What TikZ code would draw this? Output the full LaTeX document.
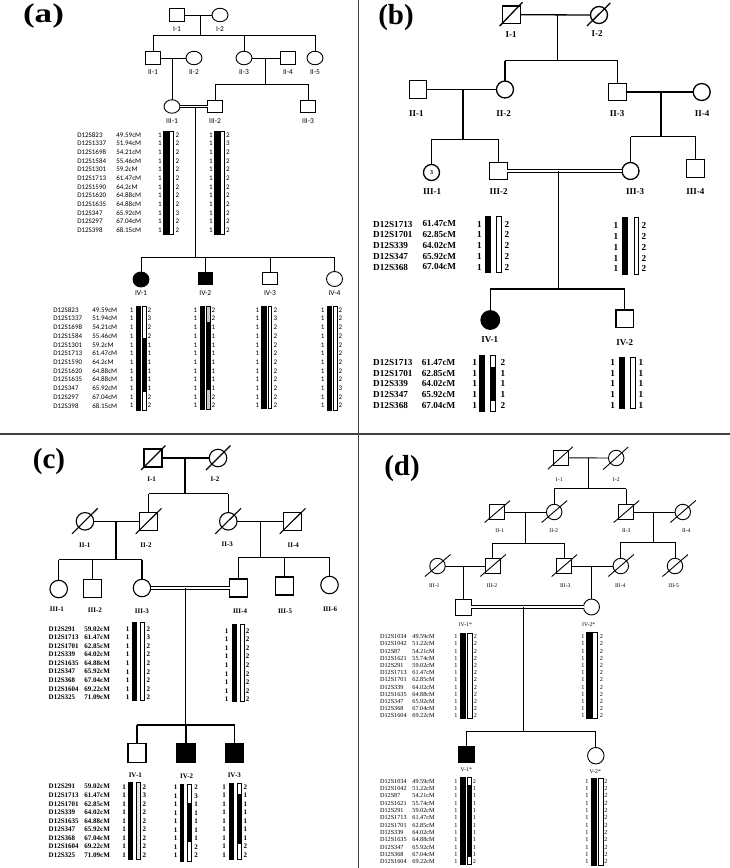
\documentclass[tikz,border=0pt]{standalone}
\usepackage{fontspec}
\setmainfont{Liberation Serif}
\newfontfamily\calib{Carlito}
\usetikzlibrary{shapes.geometric}
\def\amarks{D12S823/49.59cM, D12S1337/51.94cM, D12S1698/54.21cM, D12S1584/55.46cM, D12S1301/59.2cM, D12S1713/61.47cM, D12S1590/64.2cM, D12S1620/64.88cM, D12S1635/64.88cM, D12S347/65.92cM, D12S297/67.04cM, D12S398/68.15cM}
\def\bmarks{D12S1713/61.47cM, D12S1701/62.85cM, D12S339/64.02cM, D12S347/65.92cM, D12S368/67.04cM}
\def\cmarks{D12S291/59.02cM, D12S1713/61.47cM, D12S1701/62.85cM, D12S339/64.02cM, D12S1635/64.88cM, D12S347/65.92cM, D12S368/67.04cM, D12S1604/69.22cM, D12S325/71.09cM}
\def\dmarks{D12S1034/49.59cM, D12S1042/51.22cM, D12S87/54.21cM, D12S1621/55.74cM, D12S291/59.02cM, D12S1713/61.47cM, D12S1701/62.85cM, D12S339/64.02cM, D12S1635/64.88cM, D12S347/65.92cM, D12S368/67.04cM, D12S1604/69.22cM}
\newcommand{\hapmarkers}[6]{%
 \foreach \mkname/\mkcm [count=\idx from 0] in #6 {%
  \node[anchor=west,inner sep=0pt] (#1n\idx) at (#2,{#4+\idx*#5}) {\mkname};
  \node[anchor=west,inner sep=0pt] (#1c\idx) at (#3,{#4+\idx*#5}) {\mkcm};
 }}
\newcommand{\hapnums}[6]{%
 \foreach \allele [count=\idx from 0] in {#6} {%
  \node[inner sep=0pt] (#1l\idx) at (#2,{#4+\idx*#5}) {1};
  \node[inner sep=0pt] (#1r\idx) at (#3,{#4+\idx*#5}) {\allele};
 }}
\newcommand{\deadslash}[5]{\draw ([shift={(#2,#3)}]#1.center) -- ([shift={(#4,#5)}]#1.center);}
\begin{document}
\begin{tikzpicture}[x=1pt,y=-1pt,
 ind/.style={draw, inner sep=0pt, outer sep=0pt},
 aM/.style={ind, rectangle, minimum width=14.5pt, minimum height=12.5pt},
 aF/.style={ind, ellipse, minimum width=16pt, minimum height=13.5pt},
 bM/.style={ind, rectangle, minimum size=17.5pt},
 bF/.style={ind, circle, minimum size=17pt},
 cM/.style={ind, rectangle, minimum size=18pt},
 cF/.style={ind, circle, minimum size=17.5pt},
 dM/.style={ind, rectangle, minimum size=15pt},
 dF/.style={ind, circle, minimum size=15.5pt},
 aff/.style={fill=black},
 lbl/.style={inner sep=0pt},
 cons/.style={double, double distance=1.5pt},
 blk/.style={draw, fill=black},
 wht/.style={draw, fill=white},
 plabel/.style={inner sep=0pt, font=\bfseries\fontsize{29}{29}\selectfont},
]
\fill[white] (0,0) rectangle (730,868);
\useasboundingbox (0,0) rectangle (730,868);
% dividers
\draw[line width=2pt, black!75] (0,433.5) -- (730,433.5);
\draw[line width=1.6pt, black!75] (358.5,0) -- (358.5,868);
% panel labels
\node[plabel, font=\bfseries\fontsize{27}{27}\selectfont] (labA) at (43.5,16) {\scalebox{1.3}[1]{(a)}};
\node[plabel] (labB) at (396,18) {(b)};
\node[plabel] (labC) at (49,462) {(c)};
\node[plabel] (labD) at (402,468.7) {(d)};

%================ PANEL A ================
\begin{scope}[line width=0.9pt, font=\calib\fontsize{7.5}{8}\selectfont]
\node[aM] (aI1) at (177,15) {};
\node[aF] (aI2) at (220,15) {};
\node[lbl] (aI1t) at (177,29) {I-1};
\node[lbl] (aI2t) at (220,29) {I-2};
\coordinate (am1) at (200,15);
\coordinate (as1L) at (153,35);
\coordinate (as1R) at (315,35);
\draw (aI1.east) -- (aI2.west);
\draw (am1) -- (am1 |- as1L);
\draw (as1L) -- (as1R);
\node[aM] (aII1) at (153,58) {};
\node[aF] (aII2) at (194,58) {};
\node[aF] (aII3) at (244,58) {};
\node[aM] (aII4) at (288,58) {};
\node[aF] (aII5) at (315,58) {};
\foreach \n in {aII1,aII3,aII5} \draw (\n.north) -- (\n.north |- as1L);
\node[lbl] (aII1t) at (153,72) {II-1};
\node[lbl] (aII2t) at (194,72) {II-2};
\node[lbl] (aII3t) at (244,72) {II-3};
\node[lbl] (aII4t) at (288,72) {II-4};
\node[lbl] (aII5t) at (315,72) {II-5};
\draw (aII1.east) -- (aII2.west);
\draw (aII3.east) -- (aII4.west);
\coordinate (am2) at (172,58);
\coordinate (am3) at (265,58);
\coordinate (as2L) at (215,84);
\coordinate (as2R) at (308,84);
\draw (am3) -- (am3 |- as2L);
\draw (as2L) -- (as2R);
\node[aF] (aIII1) at (172,106.5) {};
\node[aM] (aIII2) at (215,106.5) {};
\node[aM] (aIII3) at (308,106.5) {};
\draw (am2) -- (aIII1.north);
\draw (aIII2.north) -- (aIII2.north |- as2L);
\draw (aIII3.north) -- (aIII3.north |- as2L);
\draw[cons, line width=0.8pt] (aIII1.east) -- (aIII2.west);
\node[lbl] (aIII1t) at (172,121) {III-1};
\node[lbl] (aIII2t) at (215,121) {III-2};
\node[lbl] (aIII3t) at (308,121) {III-3};
\coordinate (am4) at (195,107);
\coordinate (as3L) at (141,257);
\coordinate (as3R) at (334.5,257);
\draw (am4) -- (am4 |- as3L);
\draw (as3L) -- (as3R);
\node[aF, aff, minimum height=15pt] (aIV1) at (141,279.5) {};
\node[aM, aff] (aIV2) at (205.3,278.5) {};
\node[aM] (aIV3) at (270,278.5) {};
\node[aF, minimum height=15pt] (aIV4) at (334.5,279) {};
\foreach \n in {aIV1,aIV2,aIV3,aIV4} \draw (\n.north) -- (\n.north |- as3L);
\node[lbl] (aIV1t) at (141,293) {IV-1};
\node[lbl] (aIV2t) at (205.3,293) {IV-2};
\node[lbl] (aIV3t) at (270,293) {IV-3};
\node[lbl] (aIV4t) at (334.5,293) {IV-4};
\end{scope}
\begin{scope}[line width=0.6pt, font=\calib\fontsize{7}{8}\selectfont]
\hapmarkers{aU}{77}{116}{135}{8.64}{\amarks}
\hapmarkers{aL}{53}{92}{310}{8.7}{\amarks}
% III-1
\draw[blk] (163.3,131) rectangle (168.3,234);
\draw[wht] (169.5,131) rectangle (173.7,234);
\hapnums{aIIIa}{160}{177.5}{135}{8.64}{2,2,2,2,2,2,2,2,2,3,2,2}
% III-2
\draw[blk] (214.3,131) rectangle (219.3,234);
\draw[wht] (220.7,131) rectangle (224.7,234);
\hapnums{aIIIb}{211}{228}{135}{8.64}{2,3,2,2,2,2,2,2,2,2,2,2}
% IV-1
\draw[blk] (136,306.5) rectangle (140.5,410);
\fill[black] (142.7,338.3) rectangle (146.5,391.7);
\draw (142.7,306.5) rectangle (146.5,410);
\hapnums{aIVa}{131.7}{149.3}{310}{8.7}{2,3,2,2,1,1,1,1,1,1,2,2}
% IV-2
\draw[blk] (200.7,306) rectangle (204.7,409.5);
\fill[gray!45] (206.7,306) rectangle (210.5,409.5);
\fill[black] (206.7,321.7) rectangle (210.5,390);
\draw (206.7,306) rectangle (210.5,409.5);
\hapnums{aIVb}{195.5}{213.5}{310}{8.7}{2,2,1,1,1,1,1,1,1,1,2,2}
% IV-3
\draw[blk] (261.7,306) rectangle (266,408.5);
\draw[wht] (268,306) rectangle (271.7,408.5);
\hapnums{aIVc}{257.3}{275.3}{310}{8.7}{2,3,2,2,2,2,2,2,2,2,2,2}
% IV-4
\draw[blk] (327.3,306) rectangle (331.7,410);
\draw[wht] (333.3,306) rectangle (337.3,410);
\hapnums{aIVd}{322.7}{340.5}{310}{8.7}{2,2,2,2,2,2,2,2,2,3,2,2}
\end{scope}

%================ PANEL B ================
\begin{scope}[line width=1.3pt, font=\bfseries\fontsize{9}{10}\selectfont]
\node[bM] (bI1) at (511.5,14.7) {};
\node[bF] (bI2) at (599,15) {};
\deadslash{bI1}{-12}{11.5}{11}{-12.5}
\deadslash{bI2}{-12}{11}{11.3}{-12}
\node[lbl] (bI1t) at (511,34.3) {I-1};
\node[lbl] (bI2t) at (597,33.5) {I-2};
\coordinate (bm1) at (557.7,15);
\coordinate (bs1L) at (505,60.7);
\coordinate (bs1R) at (617.5,60.7);
\draw (bI1.east) -- (bI2.west);
\draw (bm1) -- (bm1 |- bs1L);
\draw (bs1L) -- (bs1R);
\node[bM] (bII1) at (418,89.5) {};
\node[bF] (bII2) at (505,89.5) {};
\node[bM] (bII3) at (617.5,92) {};
\node[bF] (bII4) at (701.7,92) {};
\draw (bII2.north) -- (bII2.north |- bs1L);
\draw (bII3.north) -- (bII3.north |- bs1L);
\node[lbl] (bII1t) at (416.3,113.3) {II-1};
\node[lbl] (bII2t) at (503.7,113.3) {II-2};
\node[lbl] (bII3t) at (617,113.3) {II-3};
\node[lbl] (bII4t) at (702,113.3) {II-4};
\draw (bII1.east) -- (bII2.west);
\draw (bII3.east) -- (bII4.west);
\coordinate (bm2) at (463,89.5);
\coordinate (bs2L) at (431.5,139.3);
\coordinate (bs2R) at (498.5,139.3);
\coordinate (bm3) at (661,92);
\coordinate (bs3L) at (630.5,136.7);
\coordinate (bs3R) at (695.5,136.7);
\draw (bm2) -- (bm2 |- bs2L);
\draw (bs2L) -- (bs2R);
\draw (bm3) -- (bm3 |- bs3L);
\draw (bs3L) -- (bs3R);
\node[bF, minimum size=16pt, font=\bfseries\fontsize{6}{6}\selectfont] (bIII1) at (431.5,172.5) {3};
\node[bM] (bIII2) at (498.5,171) {};
\node[bF] (bIII3) at (630.5,171) {};
\node[bM] (bIII4) at (695.5,168.5) {};
\draw (bIII1.north) -- (bIII1.north |- bs2L);
\draw (bIII2.north) -- (bIII2.north |- bs2L);
\draw (bIII3.north) -- (bIII3.north |- bs3L);
\draw (bIII4.north) -- (bIII4.north |- bs3L);
\draw[cons, line width=1pt] (bIII2.east) -- (bIII3.west);
\node[lbl] (bIII1t) at (432,191.5) {III-1};
\node[lbl] (bIII2t) at (498.7,191.5) {III-2};
\node[lbl] (bIII3t) at (635,191.5) {III-3};
\node[lbl] (bIII4t) at (695.3,191.5) {III-4};
\coordinate (bm4) at (558.7,171);
\coordinate (bs4L) at (490.3,289);
\coordinate (bs4R) at (624.7,289);
\draw (bm4) -- (bm4 |- bs4L);
\draw (bs4L) -- (bs4R);
\node[bF, aff, minimum size=18.5pt] (bIV1) at (490.3,320) {};
\node[bM] (bIV2) at (624.7,318.7) {};
\draw (bIV1.north) -- (bIV1.north |- bs4L);
\draw (bIV2.north) -- (bIV2.north |- bs4L);
\node[lbl] (bIV1t) at (489.7,340) {IV-1};
\node[lbl] (bIV2t) at (624.7,342.3) {IV-2};
\end{scope}
\begin{scope}[line width=1pt, font=\bfseries\fontsize{9.2}{10}\selectfont]
\hapmarkers{bU}{372.7}{422}{224}{10.75}{\bmarks}
\hapmarkers{bL}{372.7}{421.3}{362.3}{10.7}{\bmarks}
\draw[blk] (485.3,216) rectangle (490.3,272.7);
\draw[wht] (496.3,216) rectangle (501.3,272.7);
\hapnums{bIIIb}{479.5}{507}{224}{10.75}{2,2,2,2,2}
\draw[blk] (622.7,217.3) rectangle (627.7,274);
\draw[wht] (634.3,217.3) rectangle (638.7,274);
\hapnums{bIIIc}{616}{644}{225.7}{10.8}{2,2,2,2,2}
\draw[blk] (479.7,355.7) rectangle (484.7,411.7);
\fill[black] (490.3,366.7) rectangle (495.7,400.7);
\draw (490.3,355.7) rectangle (495.7,411.7);
\hapnums{bIVa}{474.7}{503}{362.3}{10.7}{2,1,1,1,2}
\draw[blk] (619.3,357.3) rectangle (624.3,408.3);
\draw[wht] (630.3,357.3) rectangle (635.3,408.3);
\hapnums{bIVb}{612.7}{641}{362.3}{10.7}{1,1,1,1,1}
\end{scope}

%================ PANEL C ================
\begin{scope}[line width=1.1pt, font=\bfseries\fontsize{7}{8}\selectfont]
\node[cM] (cI1) at (153,458) {};
\node[cF] (cI2) at (218,458) {};
\deadslash{cI1}{-12}{12}{12.5}{-12.5}
\deadslash{cI2}{-12}{12}{12.5}{-12.5}
\node[lbl] (cI1t) at (151.7,478.7) {I-1};
\node[lbl] (cI2t) at (215,478.7) {I-2};
\coordinate (cm1) at (185,458);
\coordinate (cs1L) at (148.8,493.7);
\coordinate (cs1R) at (228.3,493.7);
\draw (cI1.east) -- (cI2.west);
\draw (cm1) -- (cm1 |- cs1L);
\draw (cs1L) -- (cs1R);
\node[cF] (cII1) at (85,521.3) {};
\node[cM] (cII2) at (148.8,521.3) {};
\node[cF] (cII3) at (228.3,521.3) {};
\node[cM] (cII4) at (292.8,521.3) {};
\foreach \n in {cII1,cII2,cII3,cII4} {\deadslash{\n}{-13}{12.5}{12.7}{-13}}
\draw (cII2.north) -- (cII2.north |- cs1L);
\draw (cII3.north) -- (cII3.north |- cs1L);
\node[lbl] (cII1t) at (84.7,544.7) {II-1};
\node[lbl] (cII2t) at (146,544.7) {II-2};
\node[lbl] (cII3t) at (227.3,544.7) {II-3};
\node[lbl] (cII4t) at (293.3,544.7) {II-4};
\draw (cII1.east) -- (cII2.west);
\draw (cII3.east) -- (cII4.west);
\coordinate (cm2) at (116,521.3);
\coordinate (cs2L) at (58.7,559.7);
\coordinate (cs2R) at (142,559.7);
\coordinate (cm3) at (260.7,521.3);
\coordinate (cs3L) at (238.7,557.3);
\coordinate (cs3R) at (329.5,557.3);
\draw (cm2) -- (cm2 |- cs2L);
\draw (cs2L) -- (cs2R);
\draw (cm3) -- (cm3 |- cs3L);
\draw (cs3L) -- (cs3R);
\node[cF] (cIII1) at (58.7,589) {};
\node[cM] (cIII2) at (92.8,588.3) {};
\node[cF] (cIII3) at (142,588) {};
\node[cM] (cIII4) at (238.7,588) {};
\node[cM] (cIII5) at (284.7,586) {};
\node[cF] (cIII6) at (329.5,585) {};
\foreach \n in {cIII1,cIII2,cIII3} \draw (\n.north) -- (\n.north |- cs2L);
\foreach \n in {cIII4,cIII5,cIII6} \draw (\n.north) -- (\n.north |- cs3L);
\draw[cons, line width=0.9pt] (cIII3.east) -- (cIII4.west);
\node[lbl] (cIII1t) at (57,609) {III-1};
\node[lbl] (cIII2t) at (95,610) {III-2};
\node[lbl] (cIII3t) at (142,611) {III-3};
\node[lbl] (cIII4t) at (240,611) {III-4};
\node[lbl] (cIII5t) at (285,611) {III-5};
\node[lbl] (cIII6t) at (330,609) {III-6};
\coordinate (cm4) at (185.7,588);
\coordinate (cs4L) at (137,725);
\coordinate (cs4R) at (234.7,725);
\draw (cm4) -- (cm4 |- cs4L);
\draw (cs4L) -- (cs4R);
\node[cM, minimum height=19pt] (cIV1) at (137,753) {};
\node[cM, aff, minimum height=19pt] (cIV2) at (186,753) {};
\node[cM, aff, minimum height=19pt] (cIV3) at (234.7,752.7) {};
\foreach \n in {cIV1,cIV2,cIV3} \draw (\n.north) -- (\n.north |- cs4L);
\node[lbl] (cIV1t) at (135.3,775) {IV-1};
\node[lbl] (cIV2t) at (186.7,776) {IV-2};
\node[lbl] (cIV3t) at (234.3,775) {IV-3};
\end{scope}
\begin{scope}[line width=0.8pt, font=\bfseries\fontsize{7}{8}\selectfont]
\hapmarkers{cU}{48.3}{84}{629}{8.54}{\cmarks}
\hapmarkers{cL}{48.3}{84}{786.7}{8.54}{\cmarks}
\draw[blk] (132.7,622.7) rectangle (136.3,700.7);
\draw[wht] (140.7,622.7) rectangle (144.3,700.7);
\hapnums{cIIIc}{127.7}{148.3}{629}{8.54}{2,3,2,2,2,2,2,2,2}
\draw[blk] (232.3,624) rectangle (236.3,701.7);
\draw[wht] (240,624) rectangle (244,701.7);
\hapnums{cIIId}{226.7}{247.7}{631}{8.54}{2,2,2,2,2,2,2,2,2}
\draw[blk] (128.3,782.7) rectangle (132.3,859.3);
\draw[draw, fill=gray!20] (136.7,782.7) rectangle (140.3,859.3);
\hapnums{cIVa}{124}{144.3}{786.7}{8.54}{2,3,2,2,2,2,2,2,2}
\draw[blk] (180,784.3) rectangle (183.7,861);
\fill[black] (187.7,803.3) rectangle (191.7,842.3);
\draw (187.7,784.3) rectangle (191.7,861);
\hapnums{cIVb}{175.5}{196}{787.3}{8.54}{2,3,1,1,1,1,1,2,2}
\draw[blk] (229.3,783.3) rectangle (233.3,859.3);
\fill[black] (237.7,794) rectangle (241.7,844);
\draw (237.7,783.3) rectangle (241.7,859.3);
\hapnums{cIVc}{224}{245.3}{786.7}{8.54}{2,1,1,1,1,1,1,2,2}
\end{scope}

%================ PANEL D ================
\begin{scope}[line width=0.9pt, font=\fontsize{5.7}{6}\selectfont]
\node[dM] (dI1) at (560.8,457.8) {};
\node[dF] (dI2) at (616.2,458) {};
\deadslash{dI1}{-13}{11.5}{12}{-11}
\deadslash{dI2}{-13}{11.5}{12}{-11}
\node[lbl] (dI1t) at (559.3,479.3) {I-1};
\node[lbl] (dI2t) at (616.3,479.3) {I-2};
\coordinate (dm1) at (588.7,458);
\coordinate (ds1L) at (554.2,488.7);
\coordinate (ds1R) at (626.2,488.7);
\draw (dI1.east) -- (dI2.west);
\draw (dm1) -- (dm1 |- ds1L);
\draw (ds1L) -- (ds1R);
\node[dM] (dII1) at (497.2,512) {};
\node[dF] (dII2) at (554.2,512) {};
\node[dM] (dII3) at (626.2,512) {};
\node[dF] (dII4) at (682.8,512) {};
\foreach \n in {dII1,dII2,dII3,dII4} {\deadslash{\n}{-12.5}{10.5}{13}{-11.5}}
\draw (dII2.north) -- (dII2.north |- ds1L);
\draw (dII3.north) -- (dII3.north |- ds1L);
\node[lbl] (dII1t) at (499.7,530.7) {II-1};
\node[lbl] (dII2t) at (553.7,530.7) {II-2};
\node[lbl] (dII3t) at (626.3,530.7) {II-3};
\node[lbl] (dII4t) at (686.3,530.7) {II-4};
\draw (dII1.east) -- (dII2.west);
\draw (dII3.east) -- (dII4.west);
\coordinate (dm2) at (525.3,512);
\coordinate (ds2L) at (492.8,543);
\coordinate (ds2R) at (564.2,543);
\coordinate (dm3) at (653.7,512);
\coordinate (ds3L) at (620.8,542);
\coordinate (ds3R) at (675,542);
\draw (dm2) -- (dm2 |- ds2L);
\draw (ds2L) -- (ds2R);
\draw (dm3) -- (dm3 |- ds3L);
\draw (ds3L) -- (ds3R);
\node[dF] (dIII1) at (437.5,566) {};
\node[dM] (dIII2) at (492.8,566) {};
\node[dM] (dIII3) at (564.2,566) {};
\node[dF] (dIII4) at (620.8,566) {};
\node[dF] (dIII5) at (675,566) {};
\foreach \n in {dIII1,dIII2,dIII3,dIII4,dIII5} {\deadslash{\n}{-12.5}{10.5}{13}{-11.5}}
\draw (dIII2.north) -- (dIII2.north |- ds2L);
\draw (dIII3.north) -- (dIII3.north |- ds2L);
\draw (dIII4.north) -- (dIII4.north |- ds3L);
\draw (dIII5.north) -- (dIII5.north |- ds3L);
\draw (dIII1.east) -- (dIII2.west);
\draw (dIII3.east) -- (dIII4.west);
\node[lbl] (dIII1t) at (434.3,585.7) {III-1};
\node[lbl] (dIII2t) at (492,585.7) {III-2};
\node[lbl] (dIII3t) at (565.3,585.7) {III-3};
\node[lbl] (dIII4t) at (620.3,585.7) {III-4};
\node[lbl] (dIII5t) at (673.7,585.7) {III-5};
\coordinate (dm4) at (463,566);
\coordinate (dm5) at (591.5,566);
\node[dM, minimum size=16pt] (dIV1) at (463,607) {};
\node[dF, minimum size=16pt] (dIV2) at (591.5,607) {};
\draw (dm4) -- (dIV1.north);
\draw (dm5) -- (dIV2.north);
\draw[cons, line width=0.8pt] (dIV1.east) -- (dIV2.west);
\node[lbl] (dIV1t) at (465.3,624.3) {IV-1*};
\node[lbl] (dIV2t) at (588.7,624.3) {IV-2*};
\coordinate (dm6) at (523,607);
\coordinate (ds4L) at (466.5,731);
\coordinate (ds4R) at (595.8,731);
\draw (dm6) -- (dm6 |- ds4L);
\draw (ds4L) -- (ds4R);
\node[dM, aff, minimum size=16.5pt] (dV1) at (466.5,754.3) {};
\node[dF, minimum size=16.5pt] (dV2) at (595.8,755.7) {};
\draw (dV1.north) -- (dV1.north |- ds4L);
\draw (dV2.north) -- (dV2.north |- ds4L);
\node[lbl] (dV1t) at (466.3,770) {V-1*};
\node[lbl] (dV2t) at (595.3,771.7) {V-2*};
\end{scope}
\begin{scope}[line width=0.8pt, font=\fontsize{6.2}{7}\selectfont]
\hapmarkers{dU}{379.7}{412}{636.7}{7.2}{\dmarks}
\hapmarkers{dL}{379.7}{412}{781}{7.34}{\dmarks}
\draw[blk] (460.3,633.3) rectangle (465.3,718.3);
\draw[wht] (467,633.3) rectangle (472,718.3);
\hapnums{dIVa}{456}{475.3}{636.7}{7.2}{2,2,2,2,2,2,2,2,2,2,2,2}
\draw[blk] (586.3,632.7) rectangle (591.3,718.3);
\draw[wht] (592.7,632.7) rectangle (597.7,718.3);
\hapnums{dIVb}{583}{601.3}{636.7}{7.2}{2,2,2,2,2,2,2,2,2,2,2,2}
\draw[blk] (460.3,777.3) rectangle (465.3,864);
\fill[black] (467,785) rectangle (471.3,856.7);
\draw (467,777.3) rectangle (471.3,864);
\hapnums{dVa}{456}{474.5}{781}{7.34}{2,1,1,1,1,1,1,1,1,1,1,2}
\draw[blk] (591.3,778.3) rectangle (596.3,865);
\draw[wht] (598,778.3) rectangle (603,865);
\hapnums{dVb}{587}{606}{781}{7.34}{2,2,2,2,2,2,2,2,2,2,2,2}
\end{scope}
\end{tikzpicture}
\end{document}
